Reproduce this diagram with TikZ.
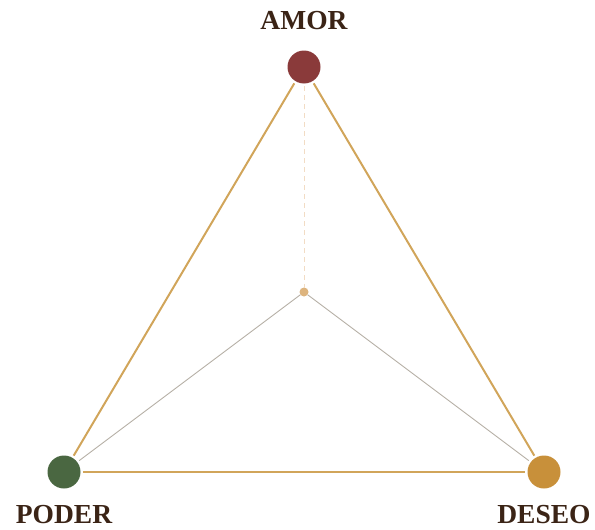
\documentclass[tikz,border=0pt]{standalone}
\usepackage{fontspec}
\setmainfont{Liberation Serif}
\definecolor{amorc}{HTML}{8A3A3A}
\definecolor{poderc}{HTML}{4A6741}
\definecolor{deseoc}{HTML}{C8903A}
\definecolor{goldline}{HTML}{D1A55A}
\definecolor{grayline}{HTML}{B5AFA5}
\definecolor{dashc}{HTML}{F2DCC4}
\definecolor{centerc}{HTML}{DDB47E}
\definecolor{labelc}{HTML}{3B2416}
\tikzset{
  vertex/.style={circle, minimum size=33pt, inner sep=0pt, outer sep=2.5pt},
  lbl/.style={anchor=base, text=labelc, font=\fontsize{27.5}{30}\selectfont\bfseries},
  edge/.style={draw=goldline, line width=2pt},
  spoke/.style={draw=grayline, line width=0.9pt},
}
\begin{document}
\begin{tikzpicture}[x=1pt,y=-1pt]
\useasboundingbox (0,0) rectangle (595,530);
\node[vertex, fill=amorc] (amor) at (304,67) {};
\node[vertex, fill=poderc] (poder) at (64,472) {};
\node[vertex, fill=deseoc] (deseo) at (544,472) {};
\node[circle, fill=centerc, minimum size=9pt, inner sep=0pt, outer sep=0pt] (ctr) at (304,292) {};
\draw[dashc, line width=1pt, dash pattern=on 5pt off 4pt] (amor) -- (ctr);
\draw[spoke] (ctr) -- (poder);
\draw[spoke] (ctr) -- (deseo);
\draw[edge] (amor) -- (poder);
\draw[edge] (amor) -- (deseo);
\draw[edge] (poder) -- (deseo);
\node[lbl] (tamor) at (304,30) {AMOR};
\node[lbl] (tpoder) at (64,523) {PODER};
\node[lbl] (tdeseo) at (544,523) {DESEO};
\end{tikzpicture}
\end{document}
